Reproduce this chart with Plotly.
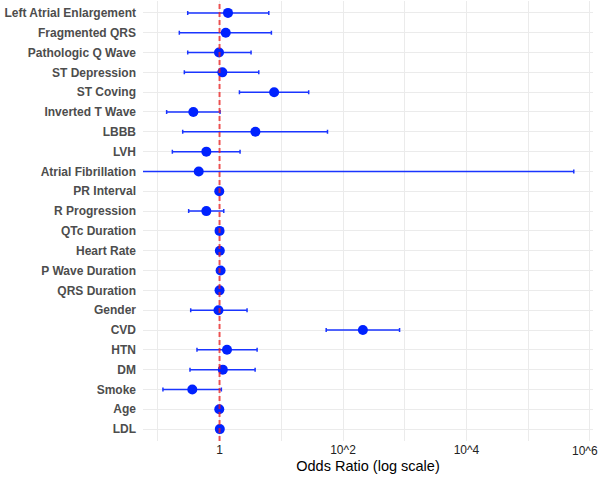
import math
import plotly.graph_objects as go

variables = ["Left Atrial Enlargement", "Fragmented QRS", "Pathologic Q Wave", "ST Depression",
             "ST Coving", "Inverted T Wave", "LBBB", "LVH", "Atrial Fibrillation", "PR Interval",
             "R Progression", "QTc Duration", "Heart Rate", "P Wave Duration", "QRS Duration",
             "Gender", "CVD", "HTN", "DM", "Smoke", "Age", "LDL"]
odds_ratio = [1.37, 1.26, 0.98, 1.11, 7.66, 0.376, 3.81, 0.611, 0.46, 0.99,
              0.611, 1.0, 1.01, 1.04, 1.0, 0.96, 210.0, 1.32, 1.13, 0.362, 0.99, 1.01]
ci_lower = [0.305, 0.223, 0.305, 0.269, 2.10, 0.139, 0.253, 0.172, 0.001, 0.98,
            0.316, 0.99, 0.99, 1.02, 0.99, 0.341, 53.4, 0.431, 0.332, 0.121, 0.98, 1.0]
ci_upper = [6.28, 6.92, 3.24, 4.32, 27.8, 1.02, 56.1, 2.15, 548000, 1.0,
            1.17, 1.01, 1.02, 1.06, 1.01, 2.79, 825.0, 4.06, 3.77, 1.07, 1.0, 1.02]

x_tickvals = [1, 100, 1e4, 1e6]
x_ticktext = ["1", "10^2", "10^4", "10^6"]
x_minor = [0.1, 10, 1000, 1e5]

n = len(variables)
ypos = [n - 1 - i for i in range(n)]

fig = go.Figure()
fig.add_trace(go.Scatter(
    x=odds_ratio, y=ypos, mode="markers",
    marker=dict(color="#0022ff", size=10, line=dict(width=0)),
    error_x=dict(type="data", symmetric=False,
                 array=[u - o for u, o in zip(ci_upper, odds_ratio)],
                 arrayminus=[o - l for o, l in zip(odds_ratio, ci_lower)],
                 color="#1a35ff", thickness=1.5, width=2),
    showlegend=False,
))

fig.add_vline(x=1, line=dict(color="rgba(235,30,30,0.75)", width=2, dash="5px,3px"), layer="above")

# last tick label drawn as annotation so it is nudged inside the page edge
fig.add_annotation(
    x=math.log10(x_tickvals[-1]), xref="x", y=0, yref="paper",
    text=x_ticktext[-1], showarrow=False, xanchor="center", yanchor="top",
    xshift=-5, yshift=-1, font=dict(size=12, color="#222"),
)

fig.update_layout(
    width=600, height=479,
    margin=dict(l=143, r=7, t=1, b=38),
    paper_bgcolor="white", plot_bgcolor="white",
    font=dict(family="Liberation Sans, Arial, sans-serif", color="#000"),
    xaxis=dict(
        type="log", range=[-1.24, 6.05],
        tickvals=x_tickvals, ticktext=x_ticktext[:-1] + [""],
        tickfont=dict(size=12, color="#222"),
        automargin=False,
        showgrid=True, gridcolor="#ebebeb", gridwidth=1,
        minor=dict(tickvals=x_minor, showgrid=True, gridcolor="#ebebeb", gridwidth=1, ticks=""),
        zeroline=False, showline=False, ticks="",
        title=dict(text="Odds Ratio (log scale)", font=dict(size=14.5, color="#000"), standoff=4),
    ),
    yaxis=dict(
        range=[-0.6, n - 0.4],
        tickvals=ypos, ticktext=variables,
        tickfont=dict(size=12, color="#4d4d4d", weight="bold"),
        showgrid=True, gridcolor="#ebebeb", gridwidth=1,
        zeroline=False, showline=False, ticks="",
        ticklabelstandoff=6, automargin=False,
    ),
)

fig.write_html("out.html")
